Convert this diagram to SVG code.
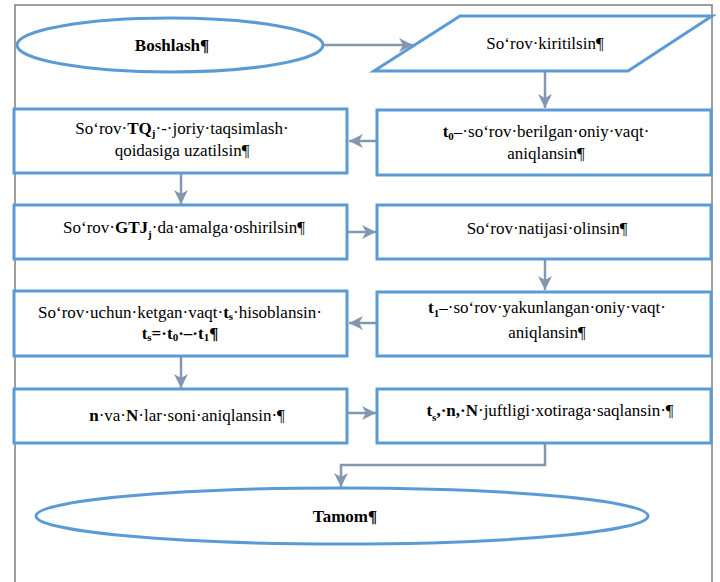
<svg xmlns="http://www.w3.org/2000/svg" width="720" height="582" viewBox="0 0 720 582">
<defs>
<style>
.frame{fill:none;stroke:#7f7f7f;stroke-width:1.5}
.shape{fill:#ffffff;stroke:#5b9bd5;stroke-width:3}
.conn{fill:none;stroke:#8497b0;stroke-width:2.5}
.t{font-family:'Liberation Serif','Times New Roman','DejaVu Serif',serif;font-size:17px;fill:#000;text-anchor:middle}
.b{font-weight:bold}
.sub{font-size:11px}
</style>
<marker id="ah" markerUnits="userSpaceOnUse" markerWidth="16" markerHeight="16" refX="14" refY="8" orient="auto">
<path d="M0,1 L14,8 L0,15 L4,8 z" fill="#8497b0"/>
</marker>
</defs>
<rect width="720" height="582" fill="#ffffff"/>
<rect class="frame" x="15" y="5" width="697" height="590"/>

<g id="connectors">
<line class="conn" x1="324" y1="45" x2="413" y2="45" marker-end="url(#ah)"/>
<line class="conn" x1="545" y1="72" x2="545" y2="108" marker-end="url(#ah)"/>
<line class="conn" x1="377" y1="141" x2="349" y2="141" marker-end="url(#ah)"/>
<line class="conn" x1="181" y1="173" x2="181" y2="204" marker-end="url(#ah)"/>
<line class="conn" x1="347" y1="232" x2="376" y2="232" marker-end="url(#ah)"/>
<line class="conn" x1="545" y1="259" x2="545" y2="290" marker-end="url(#ah)"/>
<line class="conn" x1="377" y1="323" x2="349" y2="323" marker-end="url(#ah)"/>
<line class="conn" x1="181" y1="356" x2="181" y2="388" marker-end="url(#ah)"/>
<line class="conn" x1="347" y1="413" x2="376" y2="413" marker-end="url(#ah)"/>
<polyline class="conn" points="545,443 545,465 341,465 341,487" marker-end="url(#ah)"/>
</g>

<g id="start">
<ellipse class="shape" cx="170" cy="45" rx="153" ry="27"/>
<text class="t b" x="172" y="51">Boshlash¶</text>
</g>

<g id="input">
<polygon class="shape" points="460,16 712,16 628,71 374,71"/>
<text class="t" x="545" y="49">So‘rov·kiritilsin¶</text>
</g>

<g id="t0">
<rect class="shape" x="377" y="110" width="334" height="65"/>
<text class="t" x="546" y="137"><tspan class="b">t<tspan class="sub" dy="3">0</tspan></tspan><tspan dy="-3">–·so‘rov·berilgan·oniy·vaqt·</tspan></text>
<text class="t" x="546" y="159">aniqlansin¶</text>
</g>

<g id="tq">
<rect class="shape" x="14" y="109" width="333" height="64"/>
<text class="t" x="182" y="134">So‘rov·<tspan class="b">TQ<tspan class="sub" dy="3">j</tspan></tspan><tspan dy="-3">·-·joriy·taqsimlash·</tspan></text>
<text class="t" x="182" y="156">qoidasiga uzatilsin¶</text>
</g>

<g id="gtj">
<rect class="shape" x="14" y="205" width="333" height="54"/>
<text class="t" x="184" y="233">So‘rov·<tspan class="b">GTJ<tspan class="sub" dy="5">j</tspan></tspan><tspan dy="-5">·da·amalga·oshirilsin¶</tspan></text>
</g>

<g id="natija">
<rect class="shape" x="377" y="205" width="334" height="54"/>
<text class="t" x="547" y="234">So‘rov·natijasi·olinsin¶</text>
</g>

<g id="t1">
<rect class="shape" x="377" y="292" width="334" height="64"/>
<text class="t" x="547" y="313"><tspan class="b">t<tspan class="sub" dy="4">1</tspan></tspan><tspan dy="-4">–·so‘rov·yakunlangan·oniy·vaqt·</tspan></text>
<text class="t" x="547" y="338">aniqlansin¶</text>
</g>

<g id="ts">
<rect class="shape" x="14" y="291" width="333" height="65"/>
<text class="t" x="180" y="318">So‘rov·uchun·ketgan·vaqt·<tspan class="b">t<tspan class="sub" dy="2">s</tspan></tspan><tspan dy="-2">·hisoblansin·</tspan></text>
<text class="t b" x="180" y="339">t<tspan class="sub" dy="2">s</tspan><tspan dy="-2">=·t</tspan><tspan class="sub" dy="2">0</tspan><tspan dy="-2">·–·t</tspan><tspan class="sub" dy="2">1</tspan><tspan dy="-2">¶</tspan></text>
</g>

<g id="nN">
<rect class="shape" x="14" y="389" width="333" height="54"/>
<text class="t" x="187" y="421"><tspan class="b">n</tspan>·va·<tspan class="b">N</tspan>·lar·soni·aniqlansin·¶</text>
</g>

<g id="save">
<rect class="shape" x="377" y="389" width="334" height="54"/>
<text class="t" x="550" y="416"><tspan class="b">t<tspan class="sub" dy="5">s</tspan></tspan><tspan class="b" dy="-5">,·n,·N</tspan>·juftligi·xotiraga·saqlansin·¶</text>
</g>

<g id="end">
<ellipse class="shape" cx="342" cy="516" rx="306" ry="28"/>
<text class="t b" x="345" y="522">Tamom¶</text>
</g>
</svg>
